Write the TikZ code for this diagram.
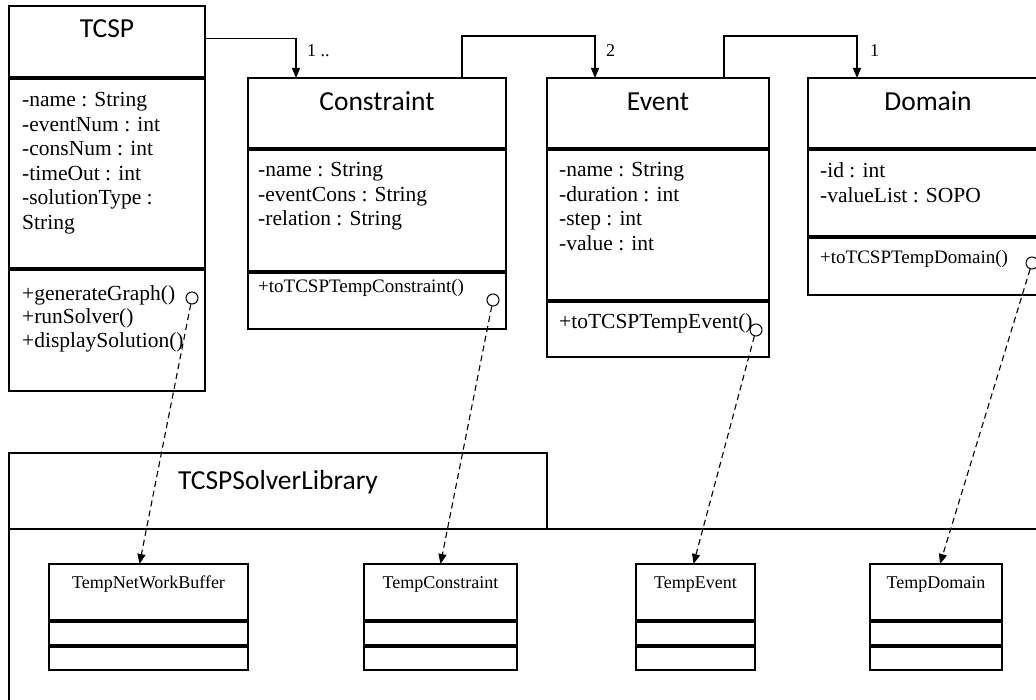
\documentclass[tikz,border=0pt]{standalone}
\usepackage{fontspec}
\setmainfont{Liberation Serif}
\newfontfamily\headfont{Carlito}
\usetikzlibrary{arrows.meta}

\begin{document}
\begin{tikzpicture}[x=1pt,y=-1pt,
    part/.style={draw,line width=1.1pt,anchor=north west,
        inner sep=0pt,outer sep=0pt},
    head/.style={font=\headfont\fontsize{27.5}{32}\selectfont,
        anchor=base,inner sep=0pt},
    members/.style={font=\fontsize{21.5}{24.5}\selectfont,
        align=left,anchor=north west,inner sep=0pt},
    ops/.style={members,font=\fontsize{21.5}{23.5}\selectfont},
    smallops/.style={members,font=\fontsize{19}{22}\selectfont},
    tmpname/.style={font=\fontsize{18}{20}\selectfont,
        anchor=base,inner sep=0pt},
    mult/.style={font=\fontsize{18}{20}\selectfont,
        anchor=base west,inner sep=0pt},
    lolly/.style={draw,circle,line width=1pt,minimum size=12pt,
        inner sep=0pt},
    assoc/.style={line width=1.1pt,-{Triangle[length=10pt,width=8pt]}},
    realize/.style={line width=1.1pt,dash pattern=on 6pt off 4pt,
        -{Triangle[length=10pt,width=8pt]}}]
\useasboundingbox (0,0) rectangle (1036,700);
\clip (0,0) rectangle (1036,700);

% classes of the model
\node [part,minimum width=196pt,minimum height=71pt] (tcsp) at (9,6) {};
\node [part,minimum width=196pt,minimum height=189pt] (tcspattr) at (9,79) {};
\node [part,minimum width=196pt,minimum height=121pt] (tcspops) at (9,270) {};
\node [head] (tcspname) at (107,38) {TCSP};
\node [members] (tcspvars) at (22,92.5)
    {-name : String\\-eventNum : int\\-consNum : int\\-timeOut : int\\
     -solutionType :\\String};
\node [ops] (tcspfuncs) at (22,285)
    {+generateGraph()\\+runSolver()\\+displaySolution()};

\node [part,minimum width=258pt,minimum height=70pt] (cons) at (248,78) {};
\node [part,minimum width=258pt,minimum height=121pt] (consattr) at (248,150) {};
\node [part,minimum width=258pt,minimum height=56pt] (consops) at (248,273) {};
\node [head] (consname) at (377,111) {Constraint};
\node [members] (consvars) at (258,162.5)
    {-name : String\\-eventCons : String\\-relation : String};
\node [smallops] (consfuncs) at (258,279) {+toTCSPTempConstraint()};

\node [part,minimum width=222pt,minimum height=70pt] (event) at (547,78) {};
\node [part,minimum width=222pt,minimum height=150pt] (eventattr) at (547,150) {};
\node [part,minimum width=222pt,minimum height=55pt] (eventops) at (547,302) {};
\node [head] (eventname) at (658,111) {Event};
\node [members] (eventvars) at (559,162.5)
    {-name : String\\-duration : int\\-step : int\\-value : int};
\node [ops] (eventfuncs) at (559,313) {+toTCSPTempEvent()};

\node [part,minimum width=240pt,minimum height=70pt] (domain) at (808,78) {};
\node [part,minimum width=240pt,minimum height=86pt] (domainattr) at (808,150) {};
\node [part,minimum width=240pt,minimum height=57pt] (domainops) at (808,238) {};
\node [head] (domainname) at (928,111) {Domain};
\node [members] (domainvars) at (820,162.5)
    {-id : int\\-valueList : SOPO};
\node [smallops] (domainfuncs) at (820,250) {+toTCSPTempDomain()};

% associations and multiplicities
\draw [assoc] ([yshift=3pt]tcsp.east) -| ([xshift=48pt]cons.north west);
\draw [assoc] ([xshift=214pt]cons.north west) -- ++(0,-42)
    -| ([xshift=48pt]event.north west);
\draw [assoc] ([xshift=177pt]event.north west) -- ++(0,-42)
    -| ([xshift=49pt]domain.north west);
\node [mult] (m1) at (307,57) {1 ..};
\node [mult] (m2) at (606,57) {2};
\node [mult] (m3) at (870,57) {1};

% solver library package
\node [part,minimum width=538pt,minimum height=76pt] (lib) at (9,453) {};
\node [head] (libname) at (278,489) {TCSPSolverLibrary};
\node [part,minimum width=1040pt,minimum height=190pt] (libbody) at (9,529) {};

\node [part,minimum width=199pt,minimum height=56pt] (tbuf) at (49,564) {};
\node [part,minimum width=199pt,minimum height=23pt] (tbufattr) at (49,622) {};
\node [part,minimum width=199pt,minimum height=23pt] (tbufops) at (49,647) {};
\node [tmpname] (tbufname) at (148.5,588) {TempNetWorkBuffer};

\node [part,minimum width=153pt,minimum height=56pt] (tcons) at (364,564) {};
\node [part,minimum width=153pt,minimum height=23pt] (tconsattr) at (364,622) {};
\node [part,minimum width=153pt,minimum height=23pt] (tconsops) at (364,647) {};
\node [tmpname] (tconsname) at (440.5,588) {TempConstraint};

\node [part,minimum width=119pt,minimum height=56pt] (tevent) at (636,564) {};
\node [part,minimum width=119pt,minimum height=23pt] (teventattr) at (636,622) {};
\node [part,minimum width=119pt,minimum height=23pt] (teventops) at (636,647) {};
\node [tmpname] (teventname) at (695.5,588) {TempEvent};

\node [part,minimum width=132pt,minimum height=56pt] (tdomain) at (870,564) {};
\node [part,minimum width=132pt,minimum height=23pt] (tdomainattr) at (870,622) {};
\node [part,minimum width=132pt,minimum height=23pt] (tdomainops) at (870,647) {};
\node [tmpname] (tdomainname) at (936,588) {TempDomain};

% provided interfaces down to the temp classes
\node [lolly] (lol1) at (192,298) {};
\node [lolly] (lol2) at (493,300) {};
\node [lolly] (lol3) at (756,330) {};
\node [lolly] (lol4) at (1032,263) {};
\draw [realize] (lol1) -- ([xshift=-9pt]tbuf.north);
\draw [realize] (lol2) -- (tcons.north);
\draw [realize] (lol3) -- ([xshift=-2pt]tevent.north);
\draw [realize] (lol4) -- ([xshift=4pt]tdomain.north);
\end{tikzpicture}
\end{document}
